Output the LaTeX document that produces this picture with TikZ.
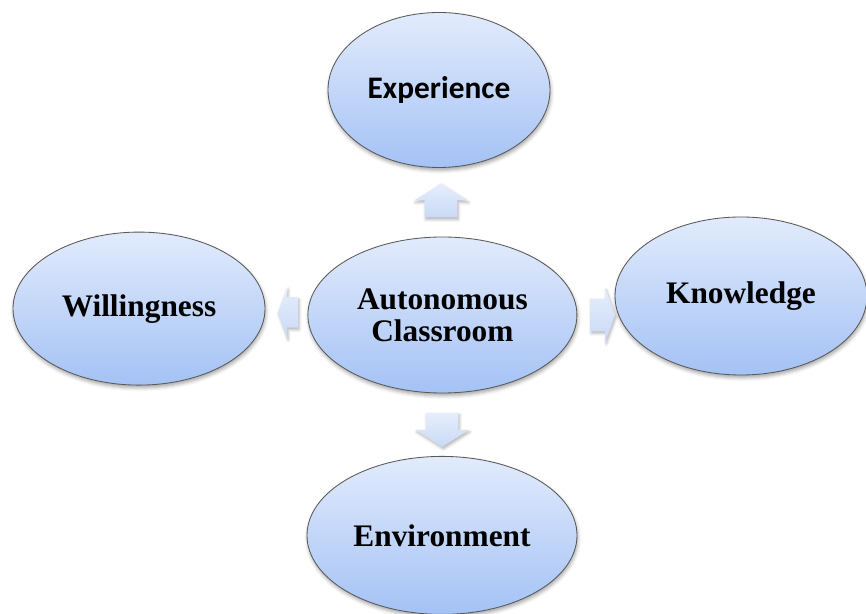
\documentclass[tikz,border=0pt]{standalone}
\usepackage{fontspec}
\setmainfont{Liberation Serif}
\newfontfamily\calibri{Carlito}
\usepackage{tikz}
\usetikzlibrary{shadows.blur}
\usetikzlibrary{shapes, shapes.arrows, positioning, calc}

\definecolor{ovalTop}{HTML}{E2EBFC}
\definecolor{ovalBot}{HTML}{A4C2F5}
\definecolor{arrTop}{HTML}{E6EEFC}
\definecolor{arrBot}{HTML}{C9D9F6}

\begin{document}
\begin{tikzpicture}[
        font=\bfseries\fontsize{22.3}{23}\selectfont,
        oval/.style={
            ellipse,
            draw=black!65,
            line width=0.6pt,
            top color=ovalTop,
            bottom color=ovalBot,
            inner sep=0pt,
            align=center,
            blur shadow={shadow xshift=0.6pt, shadow yshift=-2pt,
                shadow blur radius=2.5pt, shadow opacity=35}
        },
        blockarrow/.style={
            single arrow,
            draw=none,
            top color=arrTop,
            bottom color=arrBot,
            inner xsep=0pt,
            blur shadow={shadow xshift=0.8pt, shadow yshift=-1.5pt,
                shadow blur radius=2pt, shadow opacity=30}
        }
    ]
    \useasboundingbox (0,0) rectangle (21.65,15.325);

    % Centre
    \node[oval, minimum width=6.725cm, minimum height=3.9cm] (cls) at (11.06,7.45)
        {Autonomous\\Classroom};

    % Around it
    \node[oval, minimum width=5.55cm, minimum height=3.875cm] (exp) at (10.975,13.075)
        {\calibri\bfseries Experience};
    \node[oval, minimum width=6.3cm, minimum height=3.825cm] (will) at (3.475,7.61)
        {Willingness};
    \node[oval, minimum width=6.3cm, minimum height=3.95cm] (know) at (18.525,7.925)
        {Knowledge};
    \node[oval, minimum width=6.75cm, minimum height=3.95cm] (env) at (11.05,1.94)
        {Environment};

    % Block arrows between the ovals
    \node[blockarrow, rotate=90, minimum height=0.85cm, inner ysep=0.4cm,
        single arrow head extend=0.26cm, single arrow tip angle=115] (toExp)
        at ($(exp.south)!0.55!(cls.north)$) {};
    \node[blockarrow, rotate=-90, minimum height=0.85cm, inner ysep=0.4cm,
        single arrow head extend=0.26cm, single arrow tip angle=115] (toEnv)
        at ($(cls.south)!0.5!(env.north)$) {};
    \node[blockarrow, rotate=180, minimum height=0.5cm, inner ysep=0.375cm,
        single arrow head extend=0.25cm, single arrow tip angle=140] (toWill)
        at ($(cls.west)!0.4!(will.east)$) {};
    \node[blockarrow, minimum height=0.62cm, inner ysep=0.4cm,
        single arrow head extend=0.27cm, single arrow tip angle=140] (toKnow)
        at ($(cls.east)!0.6!(know.west |- cls.east)$) {};

\end{tikzpicture}
\end{document}
